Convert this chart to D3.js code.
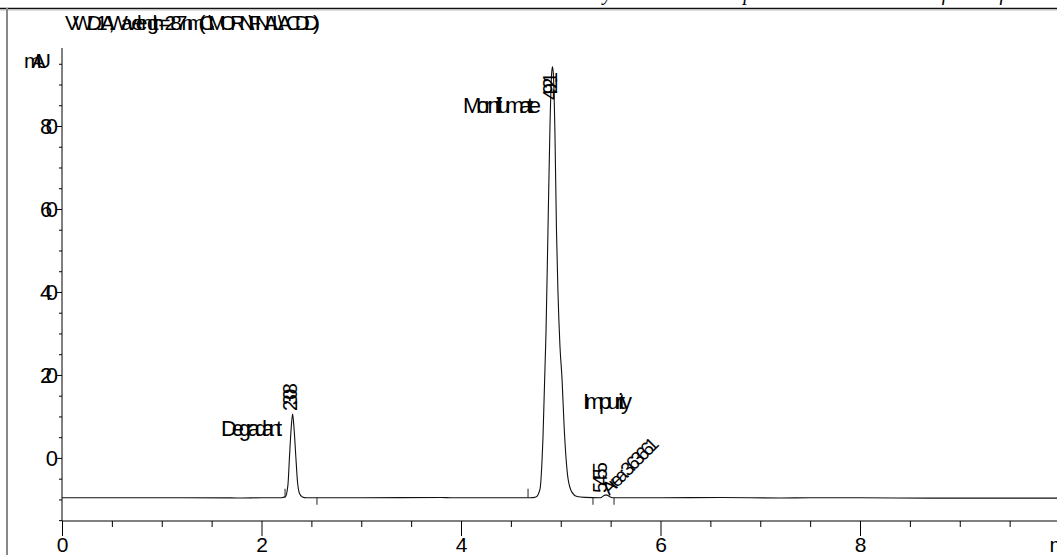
<!DOCTYPE html>
<html>
<head>
<meta charset="utf-8">
<script src="https://cdn.jsdelivr.net/npm/d3@7"></script>
<style>
  html, body { margin: 0; padding: 0; background: #fff; }
  svg { display: block; }
  text { font-family: "Liberation Sans", Arial, sans-serif; fill: #000; }
</style>
</head>
<body>
<svg id="chart" width="1057" height="555"></svg>
<script>
// ---- chromatogram data (time in min, signal in mAU) ----
const traceTime = [
  0.00, 0.60, 1.20, 1.70, 1.80, 2.00, 2.20, 2.24, 2.265, 2.28, 2.30, 2.312, 2.325, 2.345,
  2.36, 2.38, 2.41, 2.45, 3.00, 3.80, 3.90, 4.40, 4.692, 4.752, 4.792, 4.822, 4.852, 4.872,
  4.892, 4.907, 4.917, 4.927, 4.942, 4.957, 4.972, 4.992, 5.013, 5.033, 5.053, 5.073,
  5.113, 5.163, 5.243, 5.40, 5.43, 5.455, 5.48, 5.52, 6.00, 6.60, 7.20, 7.50, 8.00,
  8.70, 9.40, 10.03
];
const traceSignal = [
  -9.60, -9.60, -9.58, -9.62, -9.66, -9.60, -9.60, -9.30, -6.50, 0.00, 8.00, 10.60, 7.50, 0.00,
  -5.50, -8.50, -9.40, -9.60, -9.60, -9.55, -9.60, -9.60, -9.60, -9.40, -7.50, 5.00, 30.0, 55.0,
  80.0, 92.0, 94.3, 92.0, 78.0, 55.0, 40.0, 27.0, 19.0, 8.00, 0.00, -5.00,
  -8.30, -9.30, -9.50, -9.60, -9.10, -8.90, -9.20, -9.60, -9.60, -9.55, -9.65, -9.60, -9.60,
  -9.68, -9.68, -9.68
];

// integration start/end markers on the baseline (direction: 1 = up, -1 = down)
const markerTimes = [2.236, 2.556, 4.672, 5.323, 5.534];
const markerDirs  = [1, -1, 1, -1, -1];

// peak annotations
const peakNames = ["Degradant", "Morniflumate", "Impurity"];
const peakTimes = ["2.308", "4.921", "5.455"];
const impurityArea = "Area: 3.63661";

// axis ticks
const xTickValues = d3.range(0, 10.01, 0.5);
const xTickLabels = [0, 2, 4, 6, 8];
const yTickValues = d3.range(-15, 96, 5);
const yTickLabels = [0, 20, 40, 60, 80];

const headerText = "VWD1 A, Wavelength=287 nm (C:\\MORN\\FINAL\\ACD.D)";
const captionText = "Thermally Generated Nanoparticulate Formulation of Morniflumate";

// ---- drawing ----
const svg = d3.select("#chart");
const W = 1057, H = 555;

const x = d3.scaleLinear().domain([0, 10]).range([62, 1059.5]);
const y = d3.scaleLinear().domain([-15.2, 98.8]).range([521, 48]);

// caption above the frame (only its lower edge falls inside the page)
svg.append("text")
  .attr("x", 533).attr("y", -0.5)
  .style("font-family", "'Liberation Serif', 'Times New Roman', serif")
  .style("font-style", "italic")
  .style("font-size", "20px")
  .attr("textLength", 524).attr("lengthAdjust", "spacing")
  .text(captionText);

// frame
svg.append("line").attr("x1", 0).attr("x2", W).attr("y1", 8.5).attr("y2", 8.5)
  .attr("stroke", "#111").attr("stroke-width", 1.6);
svg.append("line").attr("x1", 0).attr("x2", W).attr("y1", 10).attr("y2", 10)
  .attr("stroke", "#bbb").attr("stroke-width", 1);
svg.append("line").attr("x1", 7).attr("x2", 7).attr("y1", 8).attr("y2", H)
  .attr("stroke", "#888").attr("stroke-width", 2);

// squeezed label helper: glyphs overlap as on the instrument printout
function squeezed(g, str, len, size) {
  return g.append("text")
    .style("font-size", size + "px")
    .attr("textLength", len).attr("lengthAdjust", "spacing")
    .text(str);
}

// header
squeezed(svg, headerText, 255, 21).attr("x", 65).attr("y", 30);

// y axis
const yAxis = d3.axisLeft(y)
  .tickValues(yTickValues)
  .tickSize(3)
  .tickFormat(d => yTickLabels.includes(d) ? String(d) : "");
const gy = svg.append("g").attr("transform", "translate(62,0)").call(yAxis);
gy.select(".domain").attr("d", `M0,${y(98.8)}V${y(-15.2)}`).attr("stroke", "#000");
gy.selectAll(".tick line").attr("stroke", "#000")
  .attr("x2", d => yTickLabels.includes(d) ? -5 : -3);
gy.selectAll(".tick text")
  .attr("x", -4)
  .attr("dy", "0.36em")
  .style("font-family", "'Liberation Sans', Arial, sans-serif")
  .style("font-size", "22px")
  .each(function(d) {
    const s = String(d);
    if (s.length > 1 && yTickLabels.includes(d)) {
      d3.select(this).attr("textLength", 18).attr("lengthAdjust", "spacing");
    }
  });
squeezed(svg, "mAU", 27, 21).attr("x", 24).attr("y", 68);

// x axis
const xAxis = d3.axisBottom(x)
  .tickValues(xTickValues)
  .tickSize(6)
  .tickSizeOuter(0)
  .tickFormat(d => xTickLabels.includes(d) ? String(d) : "");
const gx = svg.append("g").attr("transform", `translate(0,${y(-15.2)})`).call(xAxis);
gx.select(".domain").attr("stroke", "#000").attr("d", `M62,0H${W}`);
gx.selectAll(".tick line").attr("stroke", "#000")
  .attr("y2", d => xTickLabels.includes(d) ? 15 : 6);
gx.selectAll(".tick text")
  .attr("y", 16)
  .attr("dy", "0.71em")
  .style("font-family", "'Liberation Sans', Arial, sans-serif")
  .style("font-size", "21px");
svg.append("text")
  .attr("x", x(10) - 10).attr("y", 552)
  .style("font-size", "21px")
  .text("min");

// signal trace
const trace = traceTime.map((t, i) => [t, traceSignal[i]]);
const line = d3.line().x(d => x(d[0])).y(d => y(d[1])).curve(d3.curveMonotoneX);
svg.append("path")
  .datum(trace)
  .attr("d", line)
  .attr("fill", "none")
  .attr("stroke", "#111")
  .attr("stroke-width", 1.1);

// baseline integration markers
svg.append("g").selectAll("line")
  .data(markerTimes.map((t, i) => ({ t, dir: markerDirs[i] })))
  .join("line")
  .attr("x1", d => x(d.t)).attr("x2", d => x(d.t))
  .attr("y1", y(-9.6)).attr("y2", d => y(-9.6) - d.dir * (d.dir > 0 ? 9 : 7))
  .attr("stroke", "#222").attr("stroke-width", 1);

// peak names
squeezed(svg, peakNames[0], 61, 22).attr("x", 221).attr("y", 436);
squeezed(svg, peakNames[1], 78, 22).attr("x", 463).attr("y", 113);
squeezed(svg, peakNames[2], 49, 22).attr("x", 583).attr("y", 409);

// retention times, rotated
const rtPos = [
  { t: +peakTimes[0], dx: 1, top: 383, len: 28 },
  { t: +peakTimes[1], dx: 0, top: 72, len: 28 },
  { t: +peakTimes[2], dx: -3, top: 462, len: 31 }
];
rtPos.forEach((p, i) => {
  squeezed(svg, peakTimes[i], p.len, 20)
    .attr("transform", `translate(${x(p.t) + 4 + p.dx},${p.top + p.len}) rotate(-90)`);
});

// impurity area, diagonal
squeezed(svg, impurityArea, 72, 19)
  .attr("transform", `translate(${x(+peakTimes[2]) + 3},496) rotate(-45)`);
</script>
</body>
</html>
